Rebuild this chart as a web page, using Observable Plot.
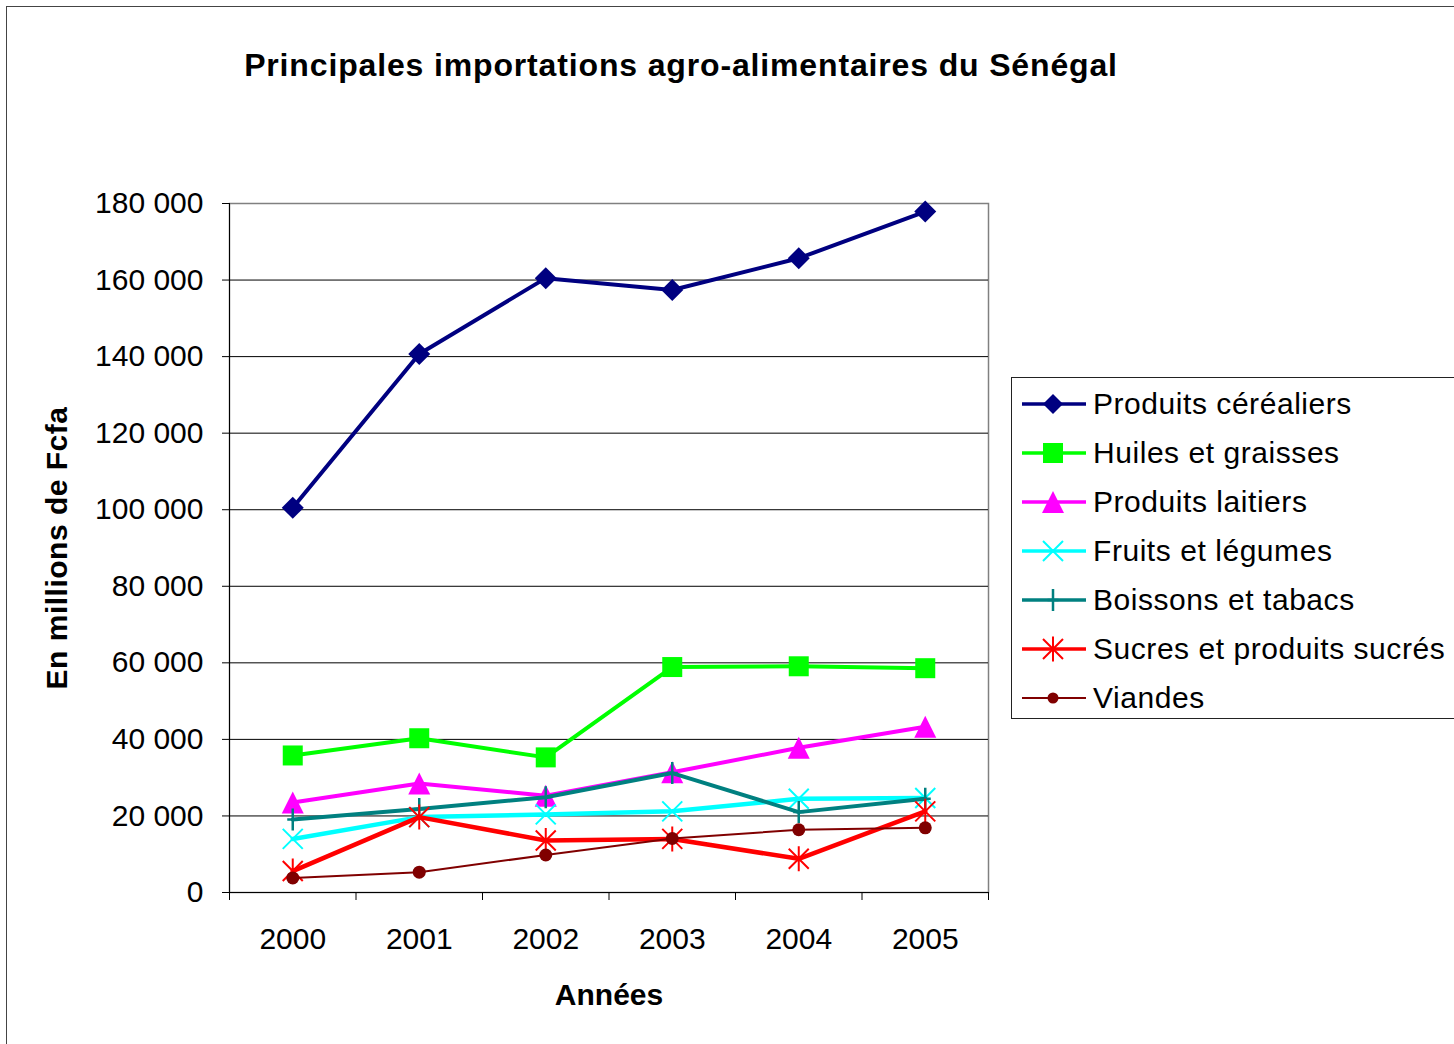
<!DOCTYPE html>
<html>
<head>
<meta charset="utf-8">
<script src="https://cdn.jsdelivr.net/npm/d3@7"></script>
<script src="https://cdn.jsdelivr.net/npm/@observablehq/plot@0.6"></script>
<style>
  body { margin: 0; background: white; }
  #page { position: relative; width: 1454px; height: 1044px; overflow: hidden; background: white; font-family: "Liberation Sans", Arial, sans-serif; }
  #border { position: absolute; left: 6px; top: 6px; width: 1600px; height: 1200px; border: 1.5px solid #444; box-sizing: border-box; }
  #title { position: absolute; left: 0; top: 49px; width: 1362px; text-align: center; font-size: 32px; line-height: 32px; font-weight: bold; letter-spacing: 0.85px; color: #000; white-space: nowrap; }
  #chart { position: absolute; left: 0; top: 0; }
  #legend { position: absolute; left: 1011px; top: 377px; width: 480px; height: 342px; border: 1px solid #222; box-sizing: border-box; background: white; }
  .row { position: absolute; left: 0; height: 49px; width: 100%; }
  .row svg { position: absolute; left: 8px; top: 9px; }
  .row span { position: absolute; left: 81px; top: -1px; line-height: 49px; font-size: 30px; letter-spacing: 0.55px; color: #000; white-space: nowrap; }
</style>
</head>
<body>
<div id="page">
  <div id="border"></div>
  <div id="chart"></div>
  <div id="title">Principales importations agro-alimentaires du Sénégal</div>
  <div id="legend"></div>
</div>
<script>
// ---- Data (millions Fcfa) ----
const years = [2000, 2001, 2002, 2003, 2004, 2005];
const seriesNames = [
  "Produits céréaliers",
  "Huiles et graisses",
  "Produits laitiers",
  "Fruits et légumes",
  "Boissons et tabacs",
  "Sucres et produits sucrés",
  "Viandes"
];
const cereales = [100500, 140700, 160500, 157400, 165700, 177900];
const huiles   = [35800, 40300, 35300, 58900, 59100, 58600];
const laitiers = [23500, 28500, 25300, 31400, 37800, 43300];
const fruits   = [14000, 19700, 20400, 21200, 24500, 24700];
const boissons = [19100, 21800, 24900, 31200, 21000, 24500];
const sucres   = [5600, 19700, 13600, 14000, 8800, 21200];
const viandes  = [3800, 5300, 9800, 14100, 16400, 16900];
const yTicks = [0, 20000, 40000, 60000, 80000, 100000, 120000, 140000, 160000, 180000];

const seriesValues = [cereales, huiles, laitiers, fruits, boissons, sucres, viandes];

// ---- Custom marker symbols (r = sqrt(size/π)) ----
const R = s => Math.sqrt(s / Math.PI);
const symDiamond = {draw(c, s) { const r = R(s); c.moveTo(0, -r); c.lineTo(r, 0); c.lineTo(0, r); c.lineTo(-r, 0); c.closePath(); }};
const symSquare = {draw(c, s) { const r = R(s); c.rect(-r, -r, 2 * r, 2 * r); }};
const symTriangle = {draw(c, s) { const r = R(s); c.moveTo(0, -r); c.lineTo(r, r); c.lineTo(-r, r); c.closePath(); }};
const symTimes = {draw(c, s) { const r = R(s); c.moveTo(-r, -r); c.lineTo(r, r); c.moveTo(r, -r); c.lineTo(-r, r); }};
const symPlus = {draw(c, s) { const r = R(s); c.moveTo(0, -r); c.lineTo(0, r); c.moveTo(-r * 0.5, 0); c.lineTo(r * 0.5, 0); }};
const symAsterisk = {draw(c, s) { const r = R(s); c.moveTo(-r, -r); c.lineTo(r, r); c.moveTo(r, -r); c.lineTo(-r, r); c.moveTo(0, -r * 1.25); c.lineTo(0, r * 1.25); }};
const symCircle = {draw(c, s) { const r = R(s); c.moveTo(r, 0); c.arc(0, 0, r, 0, 2 * Math.PI); }};

const styles = [
  {color: "#000080", width: 4, symbol: symDiamond, r: 11, filled: true, lr: 10, lw: 3.5},
  {color: "#00FF00", width: 4, symbol: symSquare, r: 10, filled: true, lr: 10, lw: 3.5},
  {color: "#FF00FF", width: 4, symbol: symTriangle, r: 11, filled: true, lr: 11, lw: 3.5},
  {color: "#00FFFF", width: 4.5, symbol: symTimes, r: 10, filled: false, sw: 2, lr: 10, lw: 3.5},
  {color: "#008080", width: 4, symbol: symPlus, r: 11, filled: false, sw: 2.5, lr: 11, lw: 3.5},
  {color: "#FF0000", width: 4.5, symbol: symAsterisk, r: 10, filled: false, sw: 2, lr: 10, lw: 3.5},
  {color: "#800000", width: 2, symbol: symCircle, r: 6.5, filled: true, lr: 5.5, lw: 2}
];

const data = [];
seriesNames.forEach((name, i) => {
  years.forEach((yr, j) => data.push({series: name, idx: i, year: yr, value: seriesValues[i][j]}));
});

const boundaries = years.map(y => y - 0.5).concat([years[years.length - 1] + 0.5]);
const fmt = d => d3.format(",")(d).replace(/,/g, " ");

const seriesMarks = [];
seriesNames.forEach((name, i) => {
  const st = styles[i];
  const d = data.filter(e => e.idx === i);
  seriesMarks.push(Plot.line(d, {x: "year", y: "value", stroke: st.color, strokeWidth: st.width, strokeLinejoin: "round"}));
  seriesMarks.push(Plot.dot(d, st.filled
    ? {x: "year", y: "value", symbol: () => st.symbol, r: st.r, fill: st.color, stroke: "none"}
    : {x: "year", y: "value", symbol: () => st.symbol, r: st.r, fill: "none", stroke: st.color, strokeWidth: st.sw}));
});

const chart = Plot.plot({
  width: 1454,
  height: 1044,
  marginTop: 203,
  marginLeft: 229,
  marginRight: 466,
  marginBottom: 152,
  style: {background: "transparent", fontFamily: "'Liberation Sans', Arial, sans-serif", color: "#000", overflow: "visible"},
  x: {domain: [boundaries[0], boundaries[boundaries.length - 1]]},
  y: {domain: [0, 180000]},
  symbol: {type: "identity"},
  marks: [
    Plot.frame({stroke: "#808080", strokeWidth: 1.5}),
    Plot.ruleY(yTicks.slice(0, -1), {stroke: "#000", strokeWidth: 1}),
    Plot.ruleX([boundaries[0]], {stroke: "#000", strokeWidth: 1}),
    Plot.axisY({ticks: yTicks, tickSize: 7, tickPadding: 19, tickFormat: fmt, fontSize: 30, label: null, stroke: "#000"}),
    Plot.axisX({ticks: boundaries, tickSize: 8, tickFormat: () => "", label: null, stroke: "#000"}),
    Plot.axisX({ticks: years, tickSize: 0, tickPadding: 35, tickFormat: d => String(d), fontSize: 30, label: null}),
    Plot.text(["En millions de Fcfa"], {frameAnchor: "left", dx: -172, rotate: -90, textAnchor: "middle", lineAnchor: "middle", fontSize: 30, fontWeight: "bold", fill: "#000", className: "ytitle"}),
    Plot.text(["Années"], {frameAnchor: "bottom", dy: 112, textAnchor: "middle", fontSize: 30, fontWeight: "bold", fill: "#000", className: "xtitle"}),
    ...seriesMarks
  ]
});
d3.select(chart).selectAll(".ytitle text").style("letter-spacing", "0.5px");
document.getElementById("chart").appendChild(chart);

// ---- Legend ----
const legend = document.getElementById("legend");
seriesNames.forEach((name, i) => {
  const st = styles[i];
  const row = document.createElement("div");
  row.className = "row";
  row.style.top = (2 + i * 49) + "px";
  const svg = d3.create("svg").attr("width", 68).attr("height", 30);
  svg.append("line").attr("x1", 2).attr("x2", 66).attr("y1", 15).attr("y2", 15)
    .attr("stroke", st.color).attr("stroke-width", st.lw);
  const path = d3.symbol(st.symbol, st.lr * st.lr * Math.PI)();
  const p = svg.append("path").attr("d", path).attr("transform", "translate(33,15)");
  if (st.filled) p.attr("fill", st.color);
  else p.attr("fill", "none").attr("stroke", st.color).attr("stroke-width", st.sw);
  row.appendChild(svg.node());
  const span = document.createElement("span");
  span.textContent = name;
  row.appendChild(span);
  legend.appendChild(row);
});
</script>
</body>
</html>
